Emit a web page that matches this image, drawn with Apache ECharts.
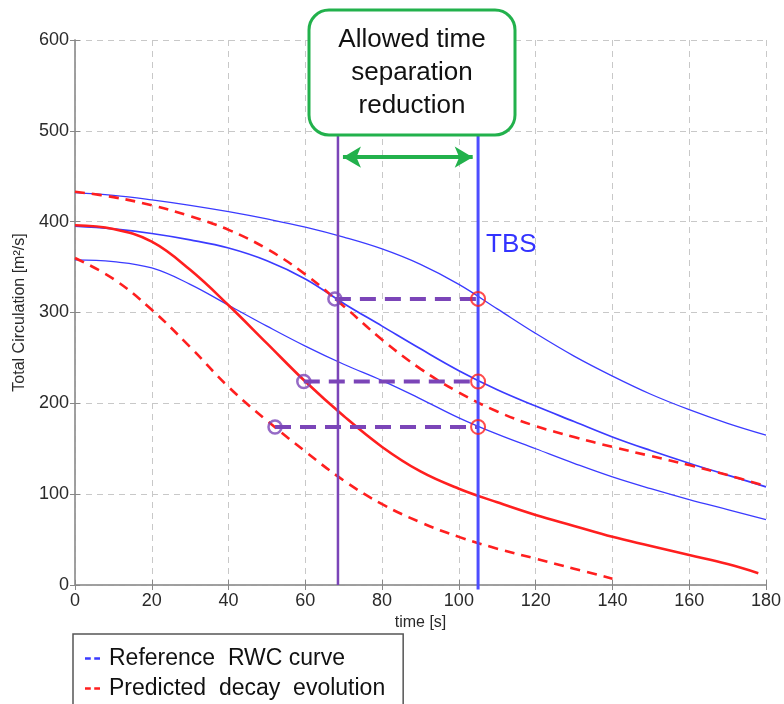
<!DOCTYPE html>
<html>
<head>
<meta charset="utf-8">
<script src="https://cdn.jsdelivr.net/npm/echarts@6/dist/echarts.min.js"></script>
<style>
html, body { margin: 0; padding: 0; background: #fff; }
#chart { width: 784px; height: 704px; }
</style>
</head>
<body>
<div id="chart"></div>
<script>
// time axis (s) for the sampled curves
var time = [0, 10, 20, 30, 40, 50, 60, 70, 80, 90, 100, 110, 120, 130, 140, 150, 160, 170, 180];
var timeSolid = [0, 10, 20, 30, 40, 50, 60, 70, 80, 90, 100, 110, 120, 130, 140, 150, 160, 170, 178];
var timeShort = [0, 10, 20, 30, 40, 50, 60, 70, 80, 90, 100, 110, 120, 130, 140];

// reference RWC curves (blue)
var refTop = [432, 429, 424, 418, 411, 403, 394, 383, 370, 353, 331, 304, 277, 252, 230, 210, 193, 178, 165];
var refMid = [395, 392, 387, 380, 371, 357, 337, 310, 285, 260, 236, 215, 197, 180, 163, 148, 134, 121, 108];
var refLow = [358, 356, 349, 331, 308, 285, 263, 243, 225, 205, 184, 166, 150, 134, 119, 106, 94, 83, 72];

// predicted decay evolution (red)
var predHigh = [433, 427, 418, 406, 391, 370, 342, 307, 270, 238, 212, 191, 175, 163, 152, 142, 132, 121, 109];
var predMid = [396, 392, 378, 347, 308, 266, 224, 186, 152, 125, 106, 91, 77, 65, 53, 43, 33, 23, 13];
var predLow = [360, 337, 303, 262, 218, 181, 147, 115, 89, 69, 53, 40, 29, 18, 7];

// matching points
var tbsTime = 105;
var allowedTime = 68.5;
var matchLevels = [315, 224, 174];
var reducedTimes = [67.7, 59.6, 52.1];
var boxBottom = 496;
var arrowLevel = 471;
var arrowFrom = 69.8, arrowTo = 103.6;

var FONT = 'Liberation Sans, Arial, sans-serif';
var BLUE = '#3b3bff';
var RED = '#ff1f1f';
var PURPLE = '#7b45b8';
var GREEN = '#22b14c';
var REF_NAME = 'Reference  RWC curve';
var PRED_NAME = 'Predicted  decay  evolution';

function pairs(xs, ys) {
    return xs.map(function (x, i) { return [x, ys[i]]; });
}

var myChart = echarts.init(document.getElementById('chart'));

var series = [];

// blue reference curves
[[refTop, 1.3], [refMid, 1.7], [refLow, 1.3]].forEach(function (c) {
    series.push({
        name: REF_NAME,
        type: 'line',
        data: pairs(time, c[0]),
        color: BLUE,
        smooth: 0.4,
        symbol: 'none',
        lineStyle: { color: BLUE, width: c[1] },
        z: 3
    });
});

// red predicted curves
series.push({
    name: PRED_NAME, type: 'line', data: pairs(time, predHigh), color: RED,
    smooth: 0.4, symbol: 'none',
    lineStyle: { color: RED, width: 2.6, type: [10, 7] }, z: 4
});
series.push({
    name: PRED_NAME, type: 'line', data: pairs(timeSolid, predMid), color: RED,
    smooth: 0.4, symbol: 'none',
    lineStyle: { color: RED, width: 2.6 }, z: 4
});
series.push({
    name: PRED_NAME, type: 'line', data: pairs(timeShort, predLow), color: RED,
    smooth: 0.4, symbol: 'none',
    lineStyle: { color: RED, width: 2.6, type: [10, 7] }, z: 4
});

// purple dashed connectors
matchLevels.forEach(function (lv, i) {
    series.push({
        type: 'line',
        data: [[reducedTimes[i], lv], [tbsTime, lv]],
        symbol: 'none',
        lineStyle: { color: PURPLE, width: 4, type: [16, 9] },
        z: 5
    });
});

// allowed-time vertical line + green double arrow
series.push({
    type: 'line',
    data: [[allowedTime, 0], [allowedTime, boxBottom]],
    symbol: 'none',
    clip: false,
    lineStyle: { color: PURPLE, width: 2.5 },
    z: 6,
    markLine: {
        silent: true,
        symbol: ['arrow', 'arrow'],
        symbolSize: [16, 18],
        label: { show: false },
        lineStyle: { color: GREEN, width: 4, type: 'solid' },
        data: [[{ coord: [arrowFrom, arrowLevel] }, { coord: [arrowTo, arrowLevel] }]]
    }
});

// TBS vertical line
series.push({
    type: 'line',
    data: [[tbsTime, -5], [tbsTime, boxBottom]],
    symbol: 'none',
    clip: false,
    lineStyle: { color: '#4d4dff', width: 3 },
    z: 6,
    markPoint: {
        silent: true,
        symbol: 'circle',
        symbolSize: 0,
        label: {
            show: true, position: 'right', distance: 8, formatter: 'TBS',
            color: '#3333ff', fontSize: 26, fontFamily: FONT
        },
        data: [{ coord: [tbsTime, 374] }]
    }
});

// circles
series.push({
    type: 'scatter',
    data: matchLevels.map(function (lv, i) { return [reducedTimes[i], lv]; }),
    symbol: 'circle',
    symbolSize: 13,
    itemStyle: { color: 'rgba(0,0,0,0)', borderColor: PURPLE, borderWidth: 2.5 },
    z: 7
});
series.push({
    type: 'scatter',
    data: matchLevels.map(function (lv) { return [tbsTime, lv]; }),
    symbol: 'circle',
    symbolSize: 14,
    itemStyle: { color: 'rgba(0,0,0,0)', borderColor: RED, borderWidth: 2 },
    z: 7
});

var gridLine = { show: true, lineStyle: { color: '#c8c8c8', type: [6, 5], width: 1 } };
var borderLine = { show: true, lineStyle: { color: '#9a9a9a', width: 1.5 } };
var tick = { show: true, inside: true, length: 5, lineStyle: { color: '#888' } };

var option = {
    animation: false,
    backgroundColor: '#fff',
    grid: { left: 75, right: 18, top: 40, bottom: 119 },
    legend: {
        data: [REF_NAME, PRED_NAME],
        orient: 'vertical',
        left: 73,
        top: 634,
        height: 120,
        itemGap: 7,
        itemWidth: 15,
        itemHeight: 3,
        icon: 'path://M0 0H5V2H0Z M8 0H13V2H8Z',
        padding: [13, 18, 30, 12],
        borderColor: '#555',
        borderWidth: 1.5,
        backgroundColor: '#fff',
        selectedMode: false,
        textStyle: { fontSize: 23, color: '#111', fontFamily: FONT, padding: [0, 0, 0, 4] }
    },
    xAxis: [{
        type: 'value', min: 0, max: 180, interval: 20, position: 'bottom',
        axisLine: borderLine, axisTick: tick, splitLine: gridLine,
        axisLabel: { fontSize: 18, color: '#2a2a2a', margin: 7, fontFamily: FONT },
        name: 'time [s]', nameLocation: 'middle', nameGap: 29,
        nameTextStyle: { fontSize: 16, color: '#2a2a2a', fontFamily: FONT }
    }, {
        type: 'value', min: 0, max: 180, interval: 20, position: 'top',
        axisLine: borderLine, axisTick: tick, splitLine: { show: false },
        axisLabel: { show: false }
    }],
    yAxis: [{
        type: 'value', min: 0, max: 600, interval: 100, position: 'left',
        axisLine: borderLine, axisTick: tick, splitLine: gridLine,
        axisLabel: { fontSize: 18, color: '#2a2a2a', margin: 6, fontFamily: FONT },
        name: 'Total Circulation [m²/s]', nameLocation: 'middle', nameGap: 45,
        nameTextStyle: { fontSize: 16, color: '#2a2a2a', fontFamily: FONT }
    }, {
        type: 'value', min: 0, max: 600, interval: 100, position: 'right',
        axisLine: borderLine, axisTick: tick, splitLine: { show: false },
        axisLabel: { show: false }
    }],
    graphic: [{
        type: 'rect',
        z: 100,
        shape: { x: 309, y: 10, width: 206, height: 125, r: 20 },
        style: { fill: '#fff', stroke: GREEN, lineWidth: 3 }
    }, {
        type: 'text',
        z: 101,
        x: 412,
        y: 73,
        style: {
            text: 'Allowed time\nseparation\nreduction',
            align: 'center', verticalAlign: 'middle',
            fontSize: 26, lineHeight: 33, fontFamily: FONT, fill: '#111'
        }
    }],
    series: series
};

myChart.setOption(option);
</script>
</body>
</html>
